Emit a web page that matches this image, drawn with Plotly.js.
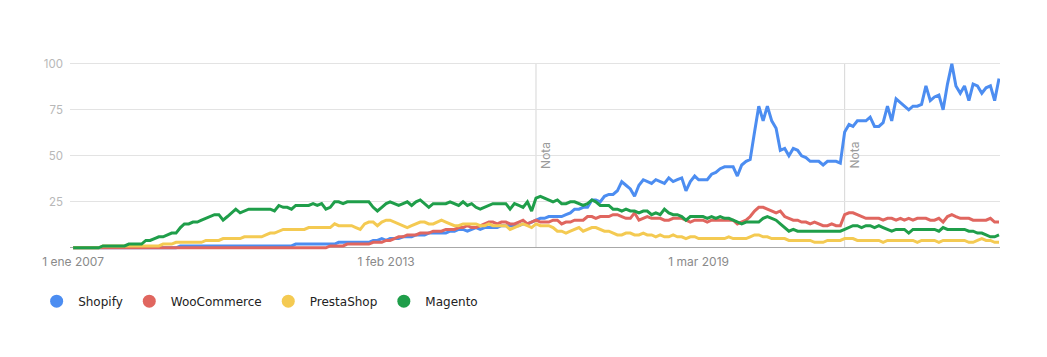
<!DOCTYPE html>
<html>
<head>
<meta charset="utf-8">
<script src="https://cdn.plot.ly/plotly-3.0.1.min.js"></script>
<style>
html,body{margin:0;padding:0;background:#fff;}
#chart{width:1047px;height:357px;}
</style>
</head>
<body>
<div id="chart"></div>
<script>
// Monthly interest, Jan 2007 .. Jan 2025 (Google Trends style, 0-100)
const startYear = 2007;
const startMonth = 1;

const seriesNames = ["Shopify", "WooCommerce", "PrestaShop", "Magento"];
const seriesColors = ["#4c8df1", "#e0665f", "#f4ca52", "#1f9e4a"];

const shopify = [
  0,0,0,0,0,0,0,0,0,0,0,0,
  0,0,0,0,0,0,0,0,0,0,0,0,
  0,1,1,1,1,1,1,1,1,1,1,1,
  1,1,1,1,1,1,1,1,1,1,1,1,
  1,1,1,1,2,2,2,2,2,2,2,2,
  2,2,3,3,3,3,3,3,3,3,4,4,
  5,4,5,5,5,6,6,6,7,7,7,8,
  8,8,8,8,9,9,10,10,9,10,11,10,
  11,11,11,11,12,12,12,12,12,13,13,14,
  15,16,16,17,17,17,17,18,19,21,21,22,
  22,26,26,25,28,29,29,31,36,34,32,28,
  34,37,36,35,37,36,35,38,36,37,38,31,
  36,39,37,37,37,40,41,43,44,44,44,39,
  45,47,48,63,77,69,77,69,65,53,54,50,
  54,53,50,49,47,47,47,45,47,47,47,46,
  63,67,66,69,69,69,71,66,66,68,77,69,
  81,79,77,75,77,77,78,88,80,82,83,75,
  89,100,88,84,88,80,89,88,84,87,88,80,
  92
];

const wooCommerce = [
  0,0,0,0,0,0,0,0,0,0,0,0,
  0,0,0,0,0,0,0,0,0,0,0,0,
  0,0,0,0,0,0,0,0,0,0,0,0,
  0,0,0,0,0,0,0,0,0,0,0,0,
  0,0,0,0,0,0,0,0,0,0,0,0,
  1,1,1,1,2,2,2,2,2,2,3,3,
  3,4,4,5,6,6,7,7,7,8,8,8,
  9,9,9,10,10,10,11,11,12,11,11,12,
  13,14,14,13,14,14,13,13,14,15,13,14,
  15,14,14,14,15,15,13,14,14,15,15,15,
  17,17,16,17,17,17,18,18,17,16,16,19,
  15,16,17,16,16,16,15,15,16,16,16,15,
  14,15,15,15,14,15,15,15,15,15,15,13,
  14,15,17,20,22,22,21,20,19,20,17,16,
  15,15,14,14,13,14,13,12,12,13,12,12,
  18,19,19,18,17,16,16,16,16,15,16,16,
  15,16,15,16,15,16,16,16,15,15,16,14,
  17,18,17,16,16,16,15,15,15,15,16,14,
  14
];

const prestaShop = [
  0,0,0,0,0,0,0,1,1,1,1,1,
  1,1,1,1,1,1,1,1,1,2,2,2,
  3,3,3,3,3,3,3,4,4,4,4,5,
  5,5,5,5,6,6,6,6,6,7,8,8,
  9,10,10,10,10,10,10,11,11,11,11,11,
  11,13,12,12,12,12,11,10,13,14,14,12,
  14,15,15,14,13,12,11,12,13,14,14,13,
  13,14,15,14,13,12,12,13,13,13,13,12,
  12,13,12,12,12,12,10,11,12,13,12,11,
  13,12,12,12,11,9,9,8,9,10,11,9,
  10,11,11,10,9,9,8,7,7,8,8,7,
  7,8,7,7,6,7,6,6,7,6,6,5,
  6,6,5,5,5,5,5,5,5,6,5,5,
  5,5,6,7,7,6,6,5,5,5,5,4,
  4,4,4,4,4,3,3,3,4,4,4,4,
  5,5,5,4,4,4,4,4,4,3,4,4,
  4,4,4,4,4,3,4,4,4,4,3,4,
  4,4,4,4,4,3,3,4,5,4,4,3,
  3
];

const magento = [
  0,0,0,0,0,0,0,1,1,1,1,1,
  1,2,2,2,2,4,4,5,6,6,7,8,
  8,11,13,13,14,14,15,16,17,18,18,15,
  17,19,21,19,20,21,21,21,21,21,21,20,
  23,22,22,21,23,23,23,23,24,23,24,21,
  22,25,25,24,25,25,25,25,25,25,22,20,
  22,24,25,24,23,24,25,23,25,26,24,22,
  24,24,24,24,25,24,23,25,23,24,22,21,
  22,23,24,24,24,24,21,24,23,22,25,20,
  27,28,27,26,25,26,24,24,25,25,24,23,
  24,26,25,23,23,23,21,21,20,21,20,20,
  19,20,20,18,19,18,21,19,18,18,17,15,
  17,17,17,17,16,17,16,17,16,16,15,14,
  13,14,14,14,14,16,17,16,15,13,11,9,
  10,9,9,9,9,9,9,9,9,9,9,9,
  10,11,12,12,11,12,12,11,12,11,10,9,
  10,10,10,8,10,10,10,10,10,10,9,11,
  10,10,10,10,10,9,9,8,8,7,6,6,
  7
];

const tickDates = ["2007-01-01", "2013-02-01", "2019-03-01"];
const tickLabels = ["1 ene 2007", "1 feb 2013", "1 mar 2019"];
const noteDates = ["2016-01-01", "2022-01-01"];
const noteLabel = "Nota";
const yTicks = [25, 50, 75, 100];

const seriesValues = [shopify, wooCommerce, prestaShop, magento];

function monthDates(n) {
  const out = [];
  for (let i = 0; i < n; i++) {
    const t = (startMonth - 1) + i;
    const y = startYear + Math.floor(t / 12);
    const m = (t % 12) + 1;
    out.push(y + "-" + String(m).padStart(2, "0") + "-01");
  }
  return out;
}

const dates = monthDates(shopify.length);

const traces = [];
seriesValues.forEach((vals, i) => {
  traces.push({
    type: "scatter", mode: "lines", x: dates, y: vals,
    name: seriesNames[i], showlegend: false,
    line: {color: seriesColors[i], width: 3, shape: "linear"},
    hoverinfo: "skip"
  });
});
seriesNames.forEach((nm, i) => {
  traces.push({
    type: "scatter", mode: "markers", x: [null], y: [null],
    name: nm, showlegend: true,
    marker: {color: seriesColors[i], size: 13, symbol: "circle"}
  });
});

const shapes = noteDates.map(d => ({
  type: "line", xref: "x", yref: "y", x0: d, x1: d, y0: 0, y1: 100,
  line: {color: "#d6d6d6", width: 1}, layer: "below"
}));

const annotations = noteDates.map(d => ({
  xref: "x", yref: "y", x: d, y: 50.5, text: noteLabel, textangle: -90,
  showarrow: false, xanchor: "center", yanchor: "middle", xshift: 10,
  font: {family: "Inter, 'Open Sans', sans-serif", size: 12, color: "#9a9a9a"}
}));

const layout = {
  width: 1047, height: 357,
  margin: {l: 70, r: 47, t: 62, b: 107},
  paper_bgcolor: "#fff", plot_bgcolor: "#fff",
  font: {family: "Inter, 'Open Sans', sans-serif"},
  xaxis: {
    type: "date", range: ["2006-12-10", "2025-01-08"],
    tickmode: "array", tickvals: tickDates, ticktext: tickLabels,
    showgrid: false, zeroline: false, showline: false, ticks: "",
    ticklabelstandoff: 3,
    tickfont: {size: 12, color: "#8a8a8a"}
  },
  yaxis: {
    range: [-1.2, 101], tickmode: "array", tickvals: yTicks,
    showgrid: true, gridcolor: "#e3e3e3", gridwidth: 1,
    zeroline: true, zerolinecolor: "#a8a8a8", zerolinewidth: 1,
    showline: false, ticks: "", ticklabelstandoff: 6,
    tickfont: {size: 11.5, color: "#b8b8b8"}
  },
  showlegend: true,
  legend: {
    orientation: "h", x: -0.0375, xanchor: "left", y: -0.272, yanchor: "middle",
    itemwidth: 33,
    font: {family: "'DejaVu Sans', sans-serif", size: 12, color: "#222"},
    itemclick: false, itemdoubleclick: false
  },
  shapes: shapes,
  annotations: annotations,
  hovermode: false
};

Plotly.newPlot("chart", traces, layout, {displayModeBar: false, staticPlot: true});
</script>
</body>
</html>
